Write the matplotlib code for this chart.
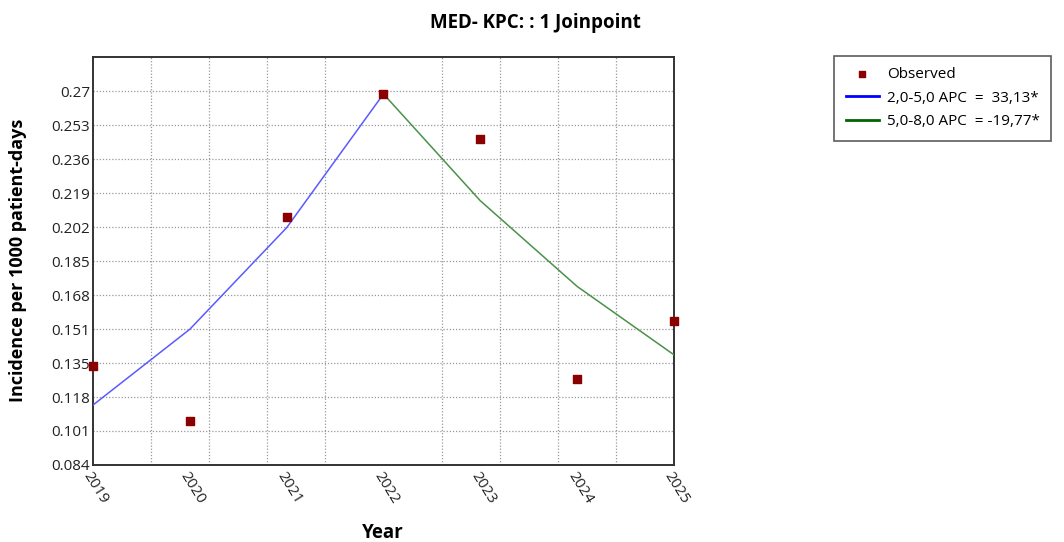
import numpy as np
import matplotlib.pyplot as plt
from matplotlib.ticker import FixedLocator

years = [2019, 2020, 2021, 2022, 2023, 2024, 2025]
observed = [0.1332, 0.1058, 0.2075, 0.2685, 0.2462, 0.1267, 0.1554]

# joinpoint fitted segments
seg1_years = [2019, 2020, 2021, 2022]
seg1_fit = [0.1138, 0.1515, 0.2020, 0.2685]
seg2_years = [2022, 2023, 2024, 2025]
seg2_fit = [0.2685, 0.2154, 0.1728, 0.1388]

ytick_vals = [0.084, 0.1009, 0.1178, 0.1347, 0.1516, 0.1685, 0.1854,
              0.2023, 0.2192, 0.2361, 0.2530, 0.2699]
ytick_labels = ['0.084', '0.101', '0.118', '0.135', '0.151', '0.168',
                '0.185', '0.202', '0.219', '0.236', '0.253', '0.27']

plt.rcParams['font.family'] = ['Open Sans', 'DejaVu Sans']

fig = plt.figure(figsize=(10.64, 5.42), dpi=100)
ax = fig.add_axes([0.0874, 0.1421, 0.546, 0.7528])

ax.plot(seg1_years, seg1_fit, color='#5a5aff', lw=1.1, zorder=3)
ax.plot(seg2_years, seg2_fit, color='#4a914a', lw=1.1, zorder=3)
ax.scatter(years, observed, marker='s', s=38, color='#8b0000', zorder=4,
           clip_on=False)

ax.set_xlim(2019, 2025)
ax.set_ylim(0.084, 0.2869)

ax.set_yticks(ytick_vals)
ax.set_yticklabels(ytick_labels, fontsize=11, color='#222222')
ax.set_xticks(years)
ax.set_xticklabels([str(y) for y in years], fontsize=11, color='#222222',
                   rotation=-58, ha='left', va='top', rotation_mode='anchor')
ax.xaxis.set_minor_locator(FixedLocator(np.linspace(2019, 2025, 11)))
ax.tick_params(axis='both', which='both', length=0)
ax.tick_params(axis='x', pad=3)
ax.tick_params(axis='y', pad=2)

ax.grid(True, which='minor', axis='x', color='#999999', ls=(0, (1, 1.5)), lw=0.9)
ax.grid(True, which='major', axis='y', color='#999999', ls=(0, (1, 1.5)), lw=0.9)
ax.grid(False, which='major', axis='x')

for sp in ax.spines.values():
    sp.set_color('#333333')
    sp.set_linewidth(1.4)

fig.text(0.503, 0.958, 'MED- KPC: : 1 Joinpoint', ha='center', va='center',
         fontsize=13.5, fontweight='bold')
fig.text(0.36, 0.017, 'Year', ha='center', va='center',
         fontsize=13.5, fontweight='bold')
fig.text(0.017, 0.52, 'Incidence per 1000 patient-days', ha='center',
         va='center', rotation=90, fontsize=13, fontweight='bold')

# legend
h1 = ax.scatter([], [], marker='s', s=22, color='#8b0000')
h2, = ax.plot([], [], color='#0000ff', lw=2)
h3, = ax.plot([], [], color='#006400', lw=2)
leg = fig.legend([h1, h2, h3],
                 ['Observed', '2,0-5,0 APC  =  33,13*', '5,0-8,0 APC  = -19,77*'],
                 loc='upper left', bbox_to_anchor=(0.784, 0.897),
                 fontsize=11, frameon=True, fancybox=False, handlelength=2.2,
                 handletextpad=0.5, borderpad=0.75, labelspacing=0.55,
                 borderaxespad=0)
leg.get_frame().set_edgecolor('#333333')
leg.get_frame().set_linewidth(1.2)

fig.savefig('out.png', dpi=100)
